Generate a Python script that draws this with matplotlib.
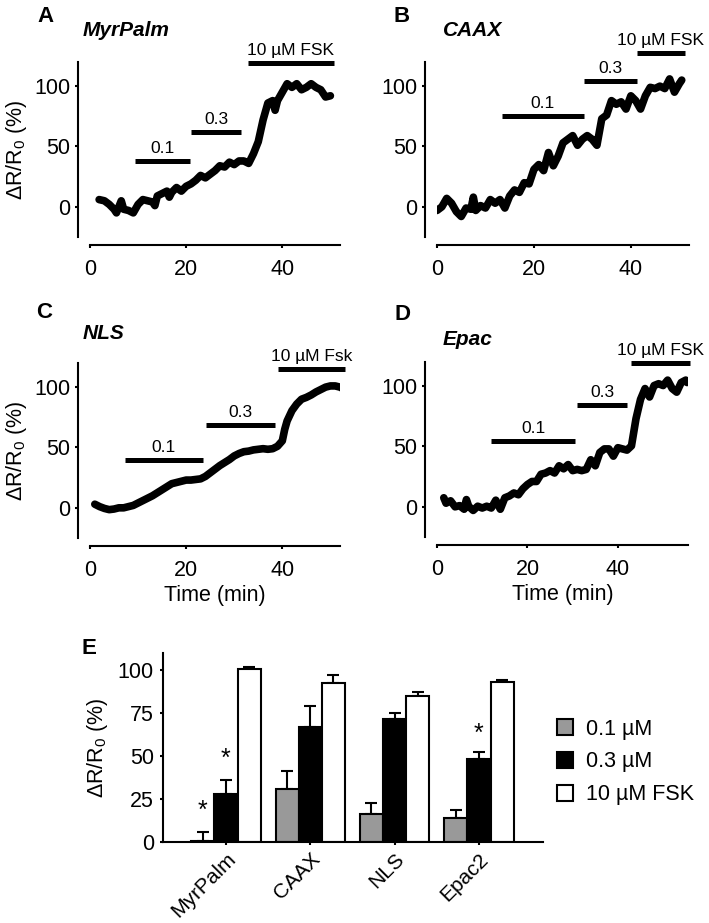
import numpy as np
import matplotlib
matplotlib.use("Agg")
import matplotlib.pyplot as plt
from matplotlib.patches import Patch

plt.rcParams['font.family'] = ['Liberation Sans', 'DejaVu Sans']
plt.rcParams['mathtext.fontset'] = 'custom'
plt.rcParams['mathtext.rm'] = 'Liberation Sans'
plt.rcParams['mathtext.default'] = 'regular'

# --- traces (time in min, dR/R0 in %) ---
a_t = [1.9, 3, 4, 5, 5.5, 6, 6.5, 7, 8, 9, 10, 11, 12, 13, 13.5, 14, 15, 16, 16.5, 17, 18, 19, 20,
       21, 22, 23, 24, 25, 26, 27, 28, 29, 30, 31, 32, 33, 34, 35, 36, 37, 38, 38.5, 39, 40,
       41, 42, 43, 44, 45, 46, 47, 48, 49, 50]
a_y = [6, 5, 2, -2, -5, 0, 5, -2, -3, -5, 2, 6, 5, 4, 1, 9, 11, 13, 8, 12, 16, 13, 17,
       19, 22, 26, 24, 27, 30, 34, 33, 37, 35, 38, 38, 36, 44, 54, 72, 86, 88, 80, 88, 95,
       102, 99, 102, 97, 99, 102, 99, 97, 91, 92]

b_t = [0, 1, 2, 3, 4, 5, 6, 7, 7.5, 8, 9, 10, 11, 12, 13, 14, 15, 16, 17, 18, 19, 20, 21, 22,
       23, 24, 25, 26, 27, 28, 29, 30, 31, 32, 33, 34, 35, 36, 37, 38, 39, 40, 41, 42, 43,
       44, 45, 46, 47, 48, 49, 50, 50.5]
b_y = [-3, 0, 7, 3, -4, -8, -1, -2, 8, -3, 1, -1, 6, 3, 6, -1, 9, 14, 12, 20, 19, 31, 35, 30,
       45, 34, 42, 53, 56, 59, 51, 56, 59, 56, 51, 73, 76, 88, 85, 87, 81, 92, 88, 81, 92,
       99, 98, 100, 98, 106, 95, 102, 105]

c_t = [1, 2, 3, 4, 5, 6, 7, 8, 9, 10, 11, 12, 13, 14, 15, 16, 17, 18, 19, 20, 21, 22, 23, 24,
       25, 26, 27, 28, 29, 30, 31, 32, 33, 34, 35, 36, 37, 38, 39, 40, 40.5, 41, 42, 43, 44,
       45, 46, 47, 48, 49, 50, 51, 52, 52.5]
c_y = [3, 1, -0.5, -1.5, -1, 0, 0, 1, 2, 4, 6, 8, 10, 12.5, 15, 17.5, 20, 21, 22, 23, 23, 23.5,
       24, 26, 29, 32, 35, 37.5, 40, 43, 45, 46.5, 47, 48, 48.5, 49, 48.5, 49, 51, 55.5, 65,
       72, 80.5, 86, 90, 91.5, 93.5, 96, 98, 100, 101, 101, 100, 99]

d_t = [1.5, 2, 3, 4, 5, 6, 6.5, 7, 8, 9, 10, 11, 12, 13, 14, 15, 16, 17, 18, 19, 20, 21, 22,
       23, 24, 25, 26, 27, 28, 29, 30, 31, 32, 33, 34, 35, 36, 37, 38, 39, 40, 41, 42, 43,
       44, 45, 46, 47, 48, 49, 50, 51, 52, 53, 54, 55, 55.3]
d_y = [7.5, 3, 5, 0, 1, -2, 6, 0.5, -3, 0.5, -1, 0.5, -1, 5.5, -2, 7.5, 9, 11.5, 10, 15, 18.5,
       21, 21, 27, 28, 30, 28, 34, 31.5, 35, 30, 31, 30, 31, 39, 34, 45, 48, 48, 42, 49, 48,
       47, 50.5, 73, 89, 98, 91, 100.5, 102, 100.5, 105, 98, 95, 103, 105, 103]

# stimulus bars: (start, end, level, label)
a_stim = [(9.3, 20.7, 38, '0.1'), (21, 31.5, 62, '0.3'), (32.9, 50.7, 119, '10 µM FSK')]
b_stim = [(13.4, 30.3, 75, '0.1'), (30.4, 41.2, 104.5, '0.3'), (41.2, 51.1, 127.5, '10 µM FSK')]
c_stim = [(7.3, 23.4, 39.5, '0.1'), (24.2, 38.5, 68.5, '0.3'), (39.1, 53, 115, '10 µM Fsk')]
d_stim = [(12, 30.5, 54.5, '0.1'), (31, 42.1, 84.5, '0.3'), (43, 55.9, 119.5, '10 µM FSK')]

# --- summary (panel E) ---
constructs = ['MyrPalm', 'CAAX', 'NLS', 'Epac2']
conc_labels = ['0.1 µM', '0.3 µM', '10 µM FSK']
mean_01 = [0.5, 31, 16.3, 14]
sem_01 = [5.5, 10.5, 6.4, 4.5]
mean_03 = [27.8, 66.8, 71.8, 48.3]
sem_03 = [8.5, 12.2, 3.2, 3.8]
mean_fsk = [100.3, 92.2, 84.9, 93]
sem_fsk = [1.6, 5.1, 2.5, 1.2]
# (construct index, series index, y) of significance stars
stars = [(0, 0, 18), (0, 1, 48.5), (3, 1, 63)]

W, H = 709, 923
fig = plt.figure(figsize=(W / 100, H / 100), dpi=100)

FS = 15.5


def rect(x0, y0, x1, y1):
    return [x0 / W, 1 - y1 / H, (x1 - x0) / W, (y1 - y0) / H]


def trace_panel(r, t, y, stim, xmax, letter, title, lpos, tpos, ylabel, xlabel):
    ax = fig.add_axes(r)
    ax.plot(t, y, color='black', lw=5.5, solid_joinstyle='round', solid_capstyle='round')
    for s0, s1, lev, lab in stim:
        ax.plot([s0, s1], [lev, lev], color='black', lw=3.6, solid_capstyle='butt', clip_on=False)
        ax.text((s0 + s1) / 2, lev + 4, lab, ha='center', va='bottom', fontsize=12.5)
    ax.set_xlim(0, xmax)
    ax.set_ylim(-25, 120)
    ax.set_xticks([0, 20, 40])
    ax.set_yticks([0, 50, 100])
    for sp in ['top', 'right']:
        ax.spines[sp].set_visible(False)
    ax.spines['left'].set_position(('outward', 8.5))
    ax.spines['bottom'].set_position(('outward', 6))
    for sp in ['left', 'bottom']:
        ax.spines[sp].set_linewidth(1.5)
    ax.tick_params(width=1.5, length=2.5, labelsize=FS)
    ax.tick_params(axis='x', pad=7)
    ax.tick_params(axis='y', pad=3)
    if ylabel:
        ax.set_ylabel('ΔR/R$_0$ (%)', fontsize=FS, labelpad=4)
    if xlabel:
        ax.set_xlabel('Time (min)', fontsize=FS, labelpad=3)
    fig.text(lpos[0] / W, 1 - lpos[1] / H, letter, fontsize=16, fontweight='bold',
             ha='center', va='center')
    fig.text(tpos[0] / W, 1 - tpos[1] / H, title, fontsize=15, fontweight='bold',
             fontstyle='italic', ha='left', va='center')
    return ax


trace_panel(rect(90, 62, 340, 237), a_t, a_y, a_stim, 52, 'A', 'MyrPalm', (46, 17), (83, 30), True, False)
trace_panel(rect(437, 62, 689, 237), b_t, b_y, b_stim, 52, 'B', 'CAAX', (402, 17), (443, 30), False, False)
trace_panel(rect(90, 363, 340, 538), c_t, c_y, c_stim, 52, 'C', 'NLS', (44, 312), (83, 334), True, True)
trace_panel(rect(437, 362, 688, 537), d_t, d_y, d_stim, 55.5, 'D', 'Epac', (403, 315), (443, 339), False, True)

# panel E
ax = fig.add_axes(rect(163, 652.8, 543, 842))
x = np.arange(len(constructs))
bw = 0.275
series = [(mean_01, sem_01, '#999999'), (mean_03, sem_03, 'black'), (mean_fsk, sem_fsk, 'white')]
for i, (m, e, c) in enumerate(series):
    xs = x + (i - 1) * bw
    ax.bar(xs, m, width=bw, color=c, edgecolor='black', linewidth=1.5, zorder=2)
    ax.errorbar(xs, m, yerr=[np.zeros(len(m)), e], fmt='none', ecolor='black',
                elinewidth=1.5, capsize=4, capthick=1.5, zorder=1)
for gi, si, yy in stars:
    ax.text(x[gi] + (si - 1) * bw, yy, '*', ha='center', va='center', fontsize=18)
ax.set_xlim(-0.747, 3.76)
ax.set_ylim(0, 110)
ax.set_yticks([0, 25, 50, 75, 100])
ax.set_xticks(x)
ax.set_xticklabels(constructs, rotation=45, ha='right', rotation_mode='anchor', fontsize=15)
for sp in ['top', 'right']:
    ax.spines[sp].set_visible(False)
for sp in ['left', 'bottom']:
    ax.spines[sp].set_linewidth(1.5)
ax.tick_params(width=1.5, length=2.5)
ax.tick_params(axis='y', pad=4, labelsize=FS)
ax.tick_params(axis='x', pad=3)
ax.set_ylabel('ΔR/R$_0$ (%)', fontsize=FS, labelpad=6)
fig.text(89 / W, 1 - 648 / H, 'E', fontsize=16, fontweight='bold', ha='center', va='center')

handles = [Patch(facecolor=c, edgecolor='black', linewidth=1.5) for _, _, c in series]
fig.legend(handles, conc_labels, loc='upper left', bbox_to_anchor=(548 / W, 1 - 710 / H),
           frameon=False, fontsize=FS, handlelength=0.75, handleheight=0.75,
           labelspacing=0.55, handletextpad=0.6, borderaxespad=0)

fig.savefig('out.png', dpi=100)
